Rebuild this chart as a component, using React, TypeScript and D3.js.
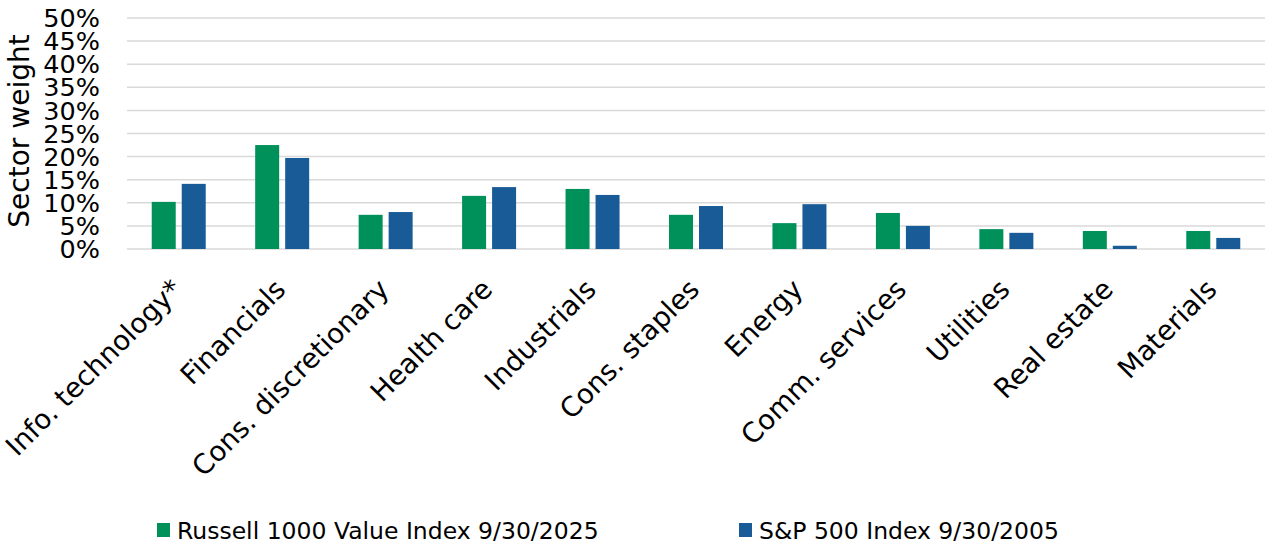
import React from "react";
import * as d3 from "d3";

const categories = [
  "Info. technology*",
  "Financials",
  "Cons. discretionary",
  "Health care",
  "Industrials",
  "Cons. staples",
  "Energy",
  "Comm. services",
  "Utilities",
  "Real estate",
  "Materials",
];
const russell2025 = [10.2, 22.5, 7.4, 11.5, 13.0, 7.4, 5.6, 7.8, 4.3, 3.9, 3.9];
const sp2005 = [14.1, 19.7, 8.0, 13.4, 11.7, 9.3, 9.7, 5.0, 3.5, 0.7, 2.4];
const seriesNames = ["Russell 1000 Value Index 9/30/2025", "S&P 500 Index 9/30/2005"];
const yTicks = [0, 5, 10, 15, 20, 25, 30, 35, 40, 45, 50];

const W = 1268;
const H = 546;
const FONT = "'DejaVu Sans', sans-serif";
const GREEN = "#00915a";
const BLUE = "#195b96";

export default function App() {
  const x = d3.scaleBand<string>().domain(categories).range([127, 1265]).padding(0);
  const y = d3.scaleLinear().domain([0, 50]).range([249, 18]);
  const bw = 24;
  const gap = 6;
  const series = [russell2025, sp2005];
  const colors = [GREEN, BLUE];

  return (
    <svg
      width={W}
      height={H}
      style={{ position: "absolute", left: 0, top: 0, display: "block", background: "#fff" }}
      fontFamily={FONT}
    >
      {yTicks.map((t) => (
        <line key={"g" + t} x1={127} x2={1265} y1={y(t)} y2={y(t)} stroke="#d9d9d9" strokeWidth={1.5} />
      ))}
      {yTicks.map((t) => (
        <text key={"t" + t} x={100} y={y(t)} dy="0.36em" textAnchor="end" fontSize={25.5} fill="#000">
          {t + "%"}
        </text>
      ))}
      <text
        transform={`translate(29,131) rotate(-90)`}
        textAnchor="middle"
        fontSize={28}
        fill="#000"
      >
        Sector weight
      </text>
      {categories.map((c, i) => {
        const cx = (x(c) as number) + x.bandwidth() / 2;
        return (
          <g key={c}>
            {series.map((s, k) => {
              const bx = k === 0 ? cx - gap / 2 - bw : cx + gap / 2;
              return (
                <rect key={k} x={bx} y={y(s[i])} width={bw} height={y(0) - y(s[i])} fill={colors[k]} />
              );
            })}
            <text
              transform={`translate(${cx + 5},${291}) rotate(-45)`}
              textAnchor="end"
              fontSize={27.5}
              fill="#000"
            >
              {c}
            </text>
          </g>
        );
      })}
      {seriesNames.map((n, k) => {
        const lx = k === 0 ? 157 : 739;
        return (
          <g key={n}>
            <rect x={lx} y={523} width={13} height={14} fill={colors[k]} />
            <text x={lx + 20} y={539} fontSize={23.5} fill="#000">
              {n}
            </text>
          </g>
        );
      })}
    </svg>
  );
}
